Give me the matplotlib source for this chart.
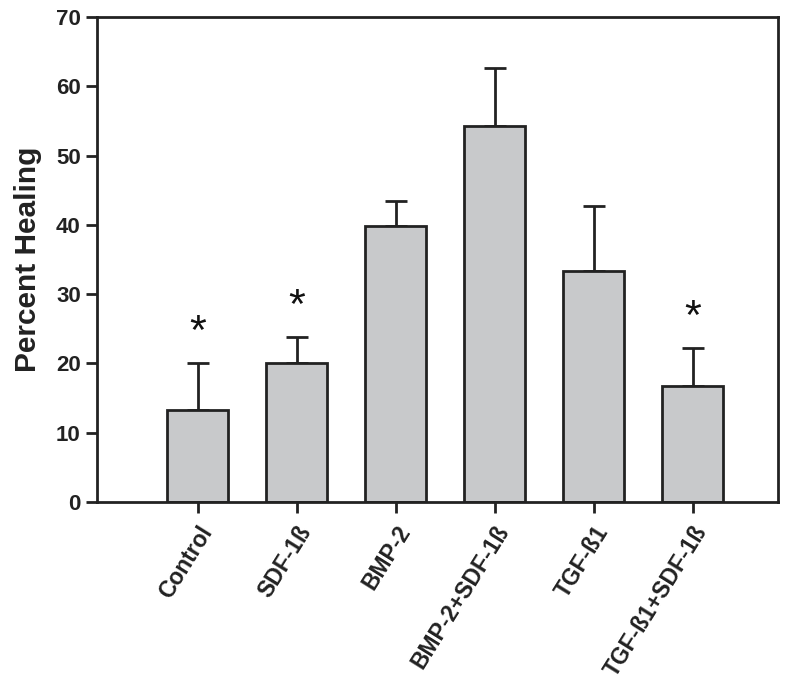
import matplotlib
matplotlib.use('Agg')
import matplotlib.pyplot as plt
import numpy as np

# Data
groups = ['Control', 'SDF-1ß', 'BMP-2', 'BMP-2+SDF-1ß', 'TGF-ß1', 'TGF-ß1+SDF-1ß']
healing = [13.3, 20.0, 39.9, 54.3, 33.3, 16.7]
sem = [6.7, 3.8, 3.6, 8.4, 9.4, 5.5]
significant = [True, True, False, False, False, True]

plt.rcParams['font.family'] = ['Liberation Sans', 'DejaVu Sans']
plt.rcParams['font.weight'] = 'bold'

fig = plt.figure(figsize=(8, 6.82), dpi=100)
ax = fig.add_axes([0.121, 0.264, 0.851, 0.711])

x = np.arange(len(groups))
dark = '#222222'

# Upper error bars only, drawn behind the bars
ax.errorbar(x, healing, yerr=[np.zeros(len(sem)), sem], fmt='none',
            ecolor=dark, elinewidth=2, capsize=8, capthick=2, zorder=1)
ax.bar(x, healing, width=0.62, color='#c8c9cb', edgecolor=dark, linewidth=2, zorder=2)

# Significance stars
for xi, h, e, s in zip(x, healing, sem, significant):
    if s:
        ax.text(xi, h + e + 4.4, '*', ha='center', va='center', fontsize=31,
                fontweight='normal', color='#111111')

ax.set_xlim(-1.02, 5.86)
ax.set_ylim(0, 70)
ax.set_yticks(np.arange(0, 71, 10))
ax.set_xticks(x)
ax.set_xticklabels(groups, rotation=58, ha='right', rotation_mode='anchor',
                   fontsize=16.5, fontweight='bold', color=dark)
ax.tick_params(axis='both', direction='out', length=8, width=2, color=dark,
               labelcolor=dark)
ax.tick_params(axis='y', labelsize=16)
ax.tick_params(axis='x', pad=6)
for lbl in ax.get_yticklabels():
    lbl.set_fontweight('bold')
ax.set_ylabel('Percent Healing', fontsize=21.5, fontweight='bold', color=dark, labelpad=10)

for sp in ax.spines.values():
    sp.set_linewidth(2)
    sp.set_color(dark)

fig.savefig('out.png', dpi=100)
